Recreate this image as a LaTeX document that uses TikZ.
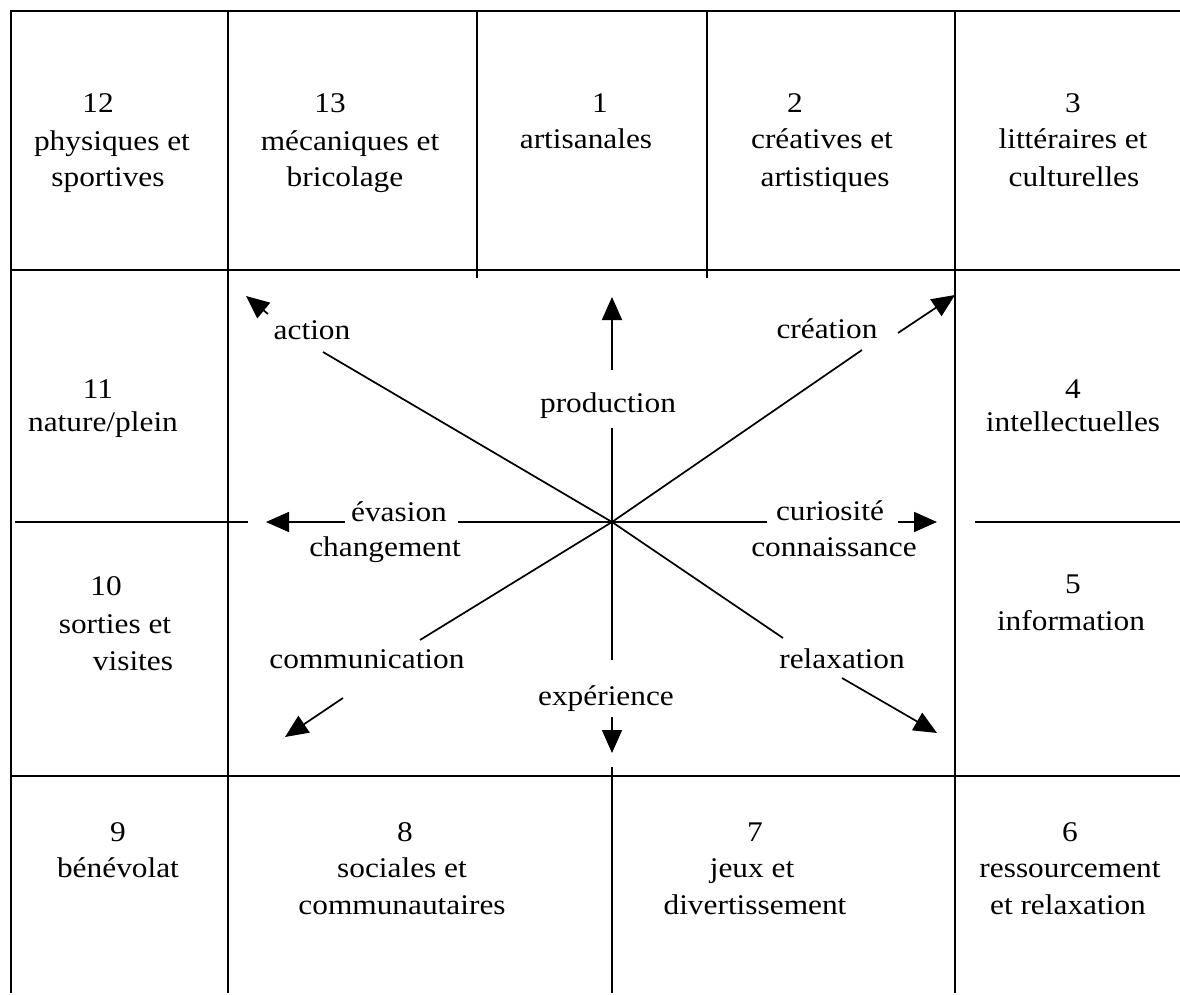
\documentclass[tikz,border=0pt]{standalone}
\usepackage{fontspec}
\setmainfont{Liberation Serif}[FakeStretch=1.1]
\usetikzlibrary{arrows.meta}
\begin{document}
\begin{tikzpicture}[x=1pt,y=-1pt,
  grid/.style={line width=1.9pt},
  axis/.style={line width=1.7pt},
  arr/.style={line width=1.7pt,-{Triangle[length=23pt,width=20pt]}},
  lbl/.style={inner sep=0pt,anchor=base,font=\fontsize{28.5}{34}\selectfont}]
\useasboundingbox (0,0) rectangle (1180,995);
% grid
\draw[grid] (10,11) -- (1180,11);
\draw[grid] (10,270) -- (1180,270);
\draw[grid] (10,776) -- (1180,776);
\draw[grid] (11,11) -- (11,993);
\draw[grid] (228,11) -- (228,993);
\draw[grid] (477,11) -- (477,278);
\draw[grid] (707,11) -- (707,278);
\draw[grid] (955,11) -- (955,993);
\draw[grid] (612,767) -- (612,993);
\draw[grid] (15,522) -- (248,522);
\draw[grid] (975,522) -- (1180,522);
% cell texts
\node[lbl] (n12) at (98,113) {12};
\node[lbl] (t12a) at (112,151) {physiques et};
\node[lbl] (t12b) at (108,187) {sportives};
\node[lbl] (n13) at (330,113) {13};
\node[lbl] (t13a) at (350,151) {mécaniques et};
\node[lbl] (t13b) at (345,187) {bricolage};
\node[lbl] (n1) at (600,113) {1};
\node[lbl] (t1a) at (586,149) {artisanales};
\node[lbl] (n2) at (795,113) {2};
\node[lbl] (t2a) at (822,149) {créatives et};
\node[lbl] (t2b) at (825,186) {artistiques};
\node[lbl] (n3) at (1073,113) {3};
\node[lbl] (t3a) at (1073,149) {littéraires et};
\node[lbl] (t3b) at (1074,186) {culturelles};
\node[lbl] (n11) at (98,398) {11};
\node[lbl] (t11a) at (103,431) {nature/plein};
\node[lbl] (n4) at (1073,398) {4};
\node[lbl] (t4a) at (1073,431) {intellectuelles};
\node[lbl] (n10) at (106,595) {10};
\node[lbl] (t10a) at (115,633) {sorties et};
\node[lbl] (t10b) at (133,670) {visites};
\node[lbl] (n5) at (1073,593) {5};
\node[lbl] (t5a) at (1071,630) {information};
\node[lbl] (n9) at (118,841) {9};
\node[lbl] (t9a) at (118,877) {bénévolat};
\node[lbl] (n8) at (405,841) {8};
\node[lbl] (t8a) at (402,877) {sociales et};
\node[lbl] (t8b) at (402,914) {communautaires};
\node[lbl] (n7) at (755,841) {7};
\node[lbl] (t7a) at (752,877) {jeux et};
\node[lbl] (t7b) at (755,914) {divertissement};
\node[lbl] (n6) at (1070,841) {6};
\node[lbl] (t6a) at (1070,877) {ressourcement};
\node[lbl] (t6b) at (1068,914) {et relaxation};
% centre labels
\node[lbl] (prod) at (608,412) {production};
\node[lbl] (expe) at (606,705) {expérience};
\node[lbl] (evas) at (399,521) {évasion};
\node[lbl] (chan) at (385,556) {changement};
\node[lbl] (curi) at (830,520) {curiosité};
\node[lbl] (conn) at (834,556) {connaissance};
\node[lbl] (acti) at (312,339) {action};
\node[lbl] (crea) at (827,338) {création};
\node[lbl] (comm) at (367,668) {communication};
\node[lbl] (rela) at (842,668) {relaxation};
% axis coordinates
\coordinate (C) at (612,522);
\coordinate (u1) at (612,428); \coordinate (u2) at (612,370); \coordinate (uT) at (612,297);
\coordinate (d1) at (612,660); \coordinate (d2) at (612,717); \coordinate (dT) at (612,753);
\coordinate (l1) at (458,522); \coordinate (l2) at (345,522); \coordinate (lT) at (266,522);
\coordinate (r1) at (767,522); \coordinate (r2) at (898,522); \coordinate (rT) at (937,522);
\coordinate (a1) at (323,352); \coordinate (a2) at (268,314); \coordinate (aT) at (246,296);
\coordinate (k1) at (862,350); \coordinate (k2) at (898,333); \coordinate (kT) at (955,295);
\coordinate (m1) at (420,640); \coordinate (m2) at (343,698); \coordinate (mT) at (285,737);
\coordinate (x1) at (783,638); \coordinate (x2) at (842,678); \coordinate (xT) at (937,733);
% axes
\foreach \s in {u,d,l,r,a,k,m,x}{
  \draw[axis] (C) -- (\s1);
  \draw[arr] (\s2) -- (\s T);
}
\end{tikzpicture}
\end{document}
